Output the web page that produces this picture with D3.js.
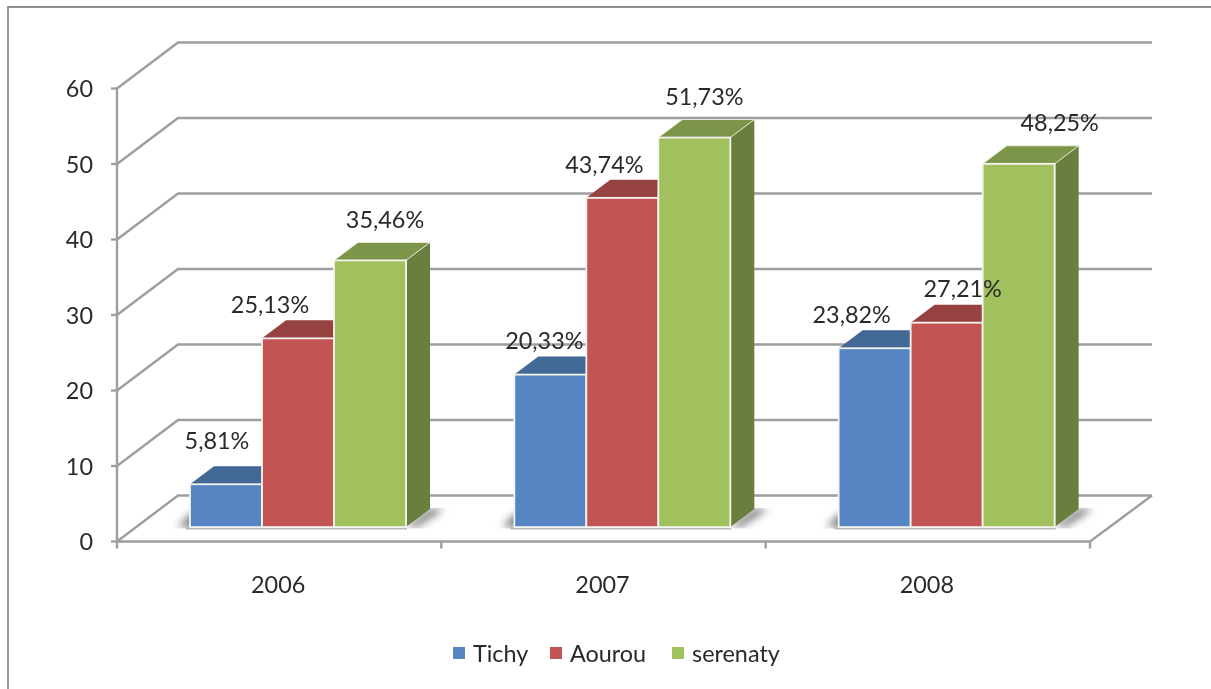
<!DOCTYPE html>
<html>
<head>
<meta charset="utf-8">
<script src="https://cdnjs.cloudflare.com/ajax/libs/d3/7.8.5/d3.min.js"></script>
<style>
html,body{margin:0;padding:0;background:#fff;overflow:hidden}
svg{display:block}
text{font-family:Lato,"Open Sans",sans-serif;fill:#2a2a2a}
</style>
</head>
<body>
<svg id="c" width="1211" height="689"></svg>
<script>
const categories = ["2006", "2007", "2008"];
const seriesNames = ["Tichy", "Aourou", "serenaty"];
const tichy = [5.81, 20.33, 23.82];
const aourou = [25.13, 43.74, 27.21];
const serenaty = [35.46, 51.73, 48.25];
const yTicks = [0, 10, 20, 30, 40, 50, 60];
const seriesValues = [tichy, aourou, serenaty];

// styling and layout, separate from the data
const front = ["#5585c2", "#c25452", "#a1c15f"];
const top3d = ["#426795", "#964240", "#7d9548"];
const side3d = ["#39597f", "#7f3937", "#6b7e3e"];
const axisCol = "#9e9e9e";
const fontSize = 23.4;
const labelNudge = [
  [[-9,-43],[-28,-33],[15,-40]],
  [[-6,-34],[-18,-33],[10,-41]],
  [[-23,-33],[16,-34],[41,-41]]
];
const wallDx = 61, wallDy = 46;       // floor depth
const barInsetDy = 13.4;              // bar front from the chart front
const barDx = 24, barDy = 18;         // bar depth

const x = d3.scaleBand().domain(categories).range([117, 1090]);
const y = d3.scaleLinear().domain([0, 60]).range([541.5, 88.5]);
const barW = 72;
const groupLeft = c => x(c) + 73;
const line = d3.line();

const svg = d3.select("#c");
const defs = svg.append("defs");
const blur = defs.append("filter").attr("id","soft").attr("x","-5%").attr("y","-5%").attr("width","110%").attr("height","110%");
blur.append("feGaussianBlur").attr("stdDeviation",0.55);
const sb = defs.append("filter").attr("id","shadowBlur").attr("x","-100%").attr("y","-100%").attr("width","300%").attr("height","300%");
sb.append("feGaussianBlur").attr("stdDeviation",4);
const floorBase = y(0) - barInsetDy - 1;
defs.append("clipPath").attr("id","floorClip").append("rect")
  .attr("x",0).attr("width",1211)
  .attr("y",floorBase - barDy - 1).attr("height",barDy + 2.5);

const root = svg.append("g").attr("filter","url(#soft)");

// outer frame
root.append("path").attr("d", line([[8,689],[8,7],[1211,7]]))
  .attr("fill","none").attr("stroke","#8f8f8f").attr("stroke-width",1.8);

const axes = root.append("g").attr("fill","none").attr("stroke",axisCol).attr("stroke-width",2.4);
// gridlines: the oblique run on the side wall and the long run on the back wall
yTicks.forEach(t => {
  axes.append("path").attr("d", line([
    [x.range()[0], y(t)],
    [x.range()[0] + wallDx, y(t) - wallDy],
    [x.range()[1] + wallDx + 1, y(t) - wallDy]
  ]));
  axes.append("path").attr("d", line([[x.range()[0] - 6, y(t)], [x.range()[0], y(t)]]));
});
// value axis, floor front, floor right edge
axes.append("path").attr("d", line([[x.range()[0], y(60)], [x.range()[0], y(0) + 7]]));
axes.append("path").attr("d", line([[x.range()[0], y(0)], [x.range()[1], y(0)], [x.range()[1] + wallDx + 1, y(0) - wallDy]]));
categories.forEach(c => {
  axes.append("path").attr("d", line([[x(c) + x.bandwidth(), y(0)], [x(c) + x.bandwidth(), y(0) + 7]]));
});

// bars, one group per category
categories.forEach((c, ci) => {
  const g = root.append("g");
  const left = groupLeft(c);
  const base = floorBase;
  const right = left + barW * seriesNames.length;
  // floor shadow on both sides of the group, blurred then clipped to the floor band
  const shade = g.append("g").attr("clip-path","url(#floorClip)");
  shade.append("path").attr("d", line([[right, base],[right + barDx, base - barDy],[right + barDx + 14, base - barDy],[right + 10, base]]) + "Z")
    .attr("fill","#6e6e6e").attr("filter","url(#shadowBlur)");
  shade.append("path").attr("d", line([[left + 8, base],[left + 8, base - 14],[left, base - 12],[left - 12, base]]) + "Z")
    .attr("fill","#6e6e6e").attr("filter","url(#shadowBlur)");
  g.append("path").attr("d", line([[left - 4, base + 1.5],[right + 1, base + 1.5]]))
    .attr("stroke","#b9b9b9").attr("stroke-width",2).attr("fill","none");

  seriesNames.forEach((s, si) => {
    const v = seriesValues[si][ci];
    const x0 = left + barW * si, x1 = x0 + barW;
    const yt = y(v) - barInsetDy;
    const bar = g.append("g");
    // top face
    bar.append("path").attr("d", line([[x0, yt],[x0 + barDx, yt - barDy],[x1 + barDx, yt - barDy],[x1, yt]]) + "Z")
      .attr("fill", top3d[si]);
    // side face, visible on the last series of the group
    if (si === seriesNames.length - 1) {
      bar.append("path").attr("d", line([[x1, yt],[x1 + barDx, yt - barDy],[x1 + barDx, base - barDy],[x1, base]]) + "Z")
        .attr("fill", side3d[si]);
      bar.append("path").attr("d", line([[x0, yt],[x0 + barDx, yt - barDy],[x1 + barDx, yt - barDy],[x1, yt],[x1, base]]))
        .attr("fill","none").attr("stroke","#eef2e6").attr("stroke-width",0.9);
    }
  });
  // front faces go on top so later top faces stay behind the neighbours
  seriesNames.forEach((s, si) => {
    const v = seriesValues[si][ci];
    const x0 = left + barW * si;
    const yt = y(v) - barInsetDy;
    g.append("rect").attr("x", x0).attr("y", yt).attr("width", barW).attr("height", base - yt)
      .attr("fill", front[si]).attr("stroke","#f4f4f0").attr("stroke-width",1.8);
  });
});

// category labels
root.append("g").selectAll("text").data(categories).join("text")
  .attr("x", d => x(d) + x.bandwidth() / 2 - 1)
  .attr("y", 592.5).attr("text-anchor","middle").attr("font-size",fontSize)
  .text(d => d);

// value labels
root.append("g").selectAll("text").data(yTicks).join("text")
  .attr("x", 93).attr("y", d => y(d) + 8.5).attr("text-anchor","end").attr("font-size",fontSize)
  .text(d => d);

// data labels
categories.forEach((c, ci) => {
  seriesNames.forEach((s, si) => {
    const v = seriesValues[si][ci];
    const n = labelNudge[ci][si];
    root.append("text")
      .attr("x", groupLeft(c) + barW * (si + 0.5) + n[0])
      .attr("y", y(v) - barInsetDy + n[1] + 8)
      .attr("text-anchor","middle").attr("font-size",fontSize)
      .text(d3.format(".2f")(v).replace(".", ",") + "%");
  });
});

// legend
const legendSwatchX = [453, 550, 672];
const legend = root.append("g");
seriesNames.forEach((s, si) => {
  legend.append("rect").attr("x", legendSwatchX[si]).attr("y", 647).attr("width", 12).attr("height", 12).attr("fill", front[si]);
  legend.append("text").attr("x", legendSwatchX[si] + 20).attr("y", 661.5).attr("font-size",fontSize).text(s);
});
</script>
</body>
</html>
